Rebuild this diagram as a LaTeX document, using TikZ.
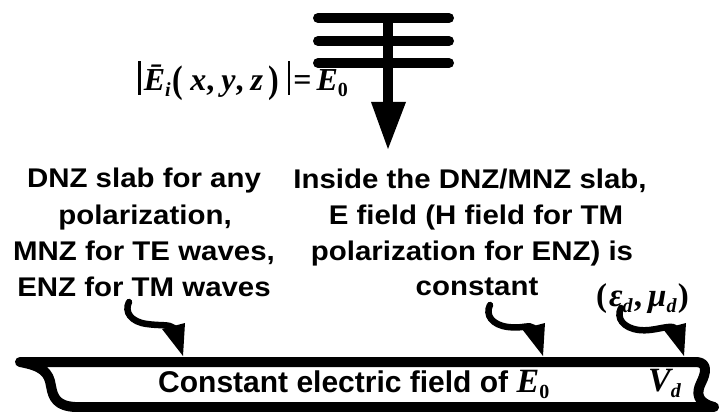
\documentclass[tikz,border=0pt]{standalone}
\usepackage{fontspec}
\usepackage{graphicx}
\setmainfont{Liberation Sans}
\newfontfamily\tms{Liberation Serif}
\usetikzlibrary{calc}
\newcommand{\hsc}[1]{\scalebox{1.09}[1]{#1}}
\newcommand{\sbs}[1]{\raisebox{-6pt}{\fontsize{20}{20}\selectfont #1}}
\newcommand{\bigpar}[1]{\raisebox{-2pt}{\scalebox{1}[1.2]{#1}}}
\newcommand{\vbar}{\rule[-4pt]{2.6pt}{34pt}}
\tikzset{
  lbl/.style={inner sep=0pt, anchor=base, font=\fontsize{27}{27}\selectfont\bfseries},
  thickline/.style={line width=10pt, line cap=round},
  slab/.style={line width=10pt, line join=round, line cap=round},
  squig/.style={line width=6.5pt, line cap=round},
  headfill/.style={fill=black},
}
\newcommand{\squiggle}[2]{%
  \draw[squig] (#1) .. controls ($(#1)+(-5,10)$) and ($(#1)+(2,20)$) .. ($(#1)+(18,22)$)
     .. controls ($(#1)+(32,24)$) and ($(#2)+(-14,-32)$) .. ($(#2)+(-9,-28)$);
  \fill[headfill] ($(#2)+(-21,-27)$) -- (#2) -- ($(#2)+(2,-33)$) -- cycle;
}
\begin{document}
\begin{tikzpicture}[x=1pt,y=-1pt]
\useasboundingbox (0,0) rectangle (721,412);

% plane wave symbol
\draw[thickline] (318,18) -- (449,18);
\draw[thickline] (318,41) -- (449,41);
\draw[thickline] (318,63) -- (449,63);
\draw[line width=10pt] (388,18) -- (388,104);
\fill (371,102) -- (406,102) -- (388,149) -- cycle;

% formula
\node[inner sep=0pt, anchor=base west] (fm) at (138,91)
  {\tms\bfseries\fontsize{32}{32}\selectfont
   \vbar\hspace{3pt}\textit{\={E}}\sbs{\textit{i}}\hspace{2pt}\bigpar{(}\hspace{7pt}\textit{x},\hspace{7pt}\textit{y},\hspace{7pt}\textit{z}\hspace{5pt}\bigpar{)}\hspace{9pt}\vbar\hspace{3pt}=\hspace{5pt}\textit{E}\sbs{0}};

% left text block
\node[lbl] (l1) at (144,187) {\hsc{DNZ slab for any}};
\node[lbl] (l2) at (145,224) {\hsc{polarization,}};
\node[lbl] (l3) at (144,260) {\hsc{MNZ for TE waves,}};
\node[lbl] (l4) at (144,296) {\hsc{ENZ for TM waves}};

% right text block
\node[lbl] (r1) at (470,188) {\hsc{Inside the DNZ/MNZ slab,}};
\node[lbl] (r2) at (476,224) {\hsc{E field (H field for TM}};
\node[lbl] (r3) at (472,260) {\hsc{polarization for ENZ) is}};
\node[lbl] (r4) at (477,295) {\hsc{constant}};

% material parameters
\node[inner sep=0pt, anchor=base west] (ep) at (596,306)
  {\tms\bfseries\fontsize{33}{33}\selectfont(\hspace{2pt}\textit{ε}\sbs{\textit{d}}\hspace{1pt},\hspace{6pt}\textit{μ}\sbs{\textit{d}}\hspace{1pt})};

% slab
\draw[slab] (20,362) -- (697,362) .. controls (708,363) and (706,373) .. (701,383)
   .. controls (696,393) and (697,403) .. (714,407) -- (75,407)
   .. controls (57,406) and (53,398) .. (51,386) .. controls (49,372) and (42,366) .. (20,362) -- cycle;

\node[inner sep=0pt, anchor=base west] (ct) at (158,392)
  {\fontsize{30}{30}\selectfont\bfseries Constant electric field of \tms\itshape\fontsize{34}{34}\selectfont E\sbs{\upshape 0}};
\node[inner sep=0pt, anchor=base west] (vd) at (648,391)
  {\tms\bfseries\itshape\fontsize{34}{34}\selectfont V\sbs{d}};

% pointers
\coordinate (s1) at (129,302); \coordinate (t1) at (183,356);
\coordinate (s2) at (490,305); \coordinate (t2) at (543,356);
\coordinate (s3) at (621,308); \coordinate (t3) at (684,356);
\squiggle{s1}{t1}
\squiggle{s2}{t2}
\squiggle{s3}{t3}
\end{tikzpicture}
\end{document}
